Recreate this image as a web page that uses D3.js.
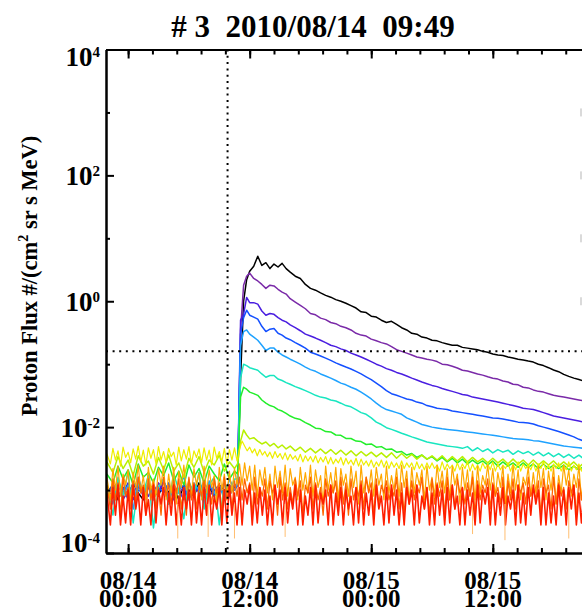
<!DOCTYPE html>
<html>
<head>
<meta charset="utf-8">
<script src="https://cdn.jsdelivr.net/npm/d3@7"></script>
<style>
body { margin: 0; background: #fff; }
svg { display: block; font-family: "Liberation Serif", "Times New Roman", serif; font-weight: bold; }
</style>
</head>
<body>
<script>
// ---- data ----
// hours after 2010/08/14 00:00 UT (coarse sampling, higher channels)
var hours = [-2.1,-1.5,-1,-0.5,0,0.5,1,1.5,2,2.5,3,3.5,4,4.5,5,5.5,6,6.5,7,7.5,8,8.5,9,9.5,10,10.5,
  10.8,11.1,11.4,11.7,12,12.4,12.8,13.2,13.6,14,14.4,14.8,15.2,15.6,
  16,16.5,17,17.5,18,18.5,19,19.5,20,20.5,21,21.5,22,22.5,23,23.5,24,24.5,25,25.5,26,26.5,27,27.5,28,28.5,29,29.5,30,30.5,
  31,31.5,32,32.5,33,33.5,34,34.5,35,35.5,36,36.5,37,37.5,38,38.5,39,39.5,40,40.5,41,41.5,42,42.5,43,43.5,44,44.5,45,45.5,46];

// hours for the noisy low channels (finer sampling)
var fineHours = [-2.1,-1.75,-1.5,-1.25,-1,-0.75,-0.5,-0.25,
  0,0.25,0.5,0.75,1,1.25,1.5,1.75,2,2.25,2.5,2.75,3,3.25,3.5,3.75,4,4.25,4.5,4.75,5,5.25,5.5,5.75,
  6,6.25,6.5,6.75,7,7.25,7.5,7.75,8,8.25,8.5,8.75,9,9.25,9.5,9.75,10,10.25,10.5,10.75,11,11.25,11.5,11.75,
  12,12.25,12.5,12.75,13,13.25,13.5,13.75,14,14.25,14.5,14.75,15,15.25,15.5,15.75,16,16.25,16.5,16.75,17,17.25,17.5,17.75,
  18,18.25,18.5,18.75,19,19.25,19.5,19.75,20,20.25,20.5,20.75,21,21.25,21.5,21.75,22,22.25,22.5,22.75,23,23.25,23.5,23.75,
  24,24.25,24.5,24.75,25,25.25,25.5,25.75,26,26.25,26.5,26.75,27,27.25,27.5,27.75,28,28.25,28.5,28.75,29,29.25,29.5,29.75,
  30,30.25,30.5,30.75,31,31.25,31.5,31.75,32,32.25,32.5,32.75,33,33.25,33.5,33.75,34,34.25,34.5,34.75,35,35.25,35.5,35.75,
  36,36.25,36.5,36.75,37,37.25,37.5,37.75,38,38.25,38.5,38.75,39,39.25,39.5,39.75,40,40.25,40.5,40.75,41,41.25,41.5,41.75,
  42,42.25,42.5,42.75,43,43.25,43.5,43.75,44,44.25,44.5,44.75,45,45.25,45.5,45.75,46];

// proton flux, one array per energy channel (highest flux first)
var fluxCh1 = [9e-4,1.2e-3,7e-4,1.1e-3,8e-4,1.3e-3,9e-4,7e-4,1.2e-3,1e-3,8e-4,1.4e-3,9e-4,1.1e-3,7e-4,1.2e-3,1e-3,8e-4,1.3e-3,9e-4,1.1e-3,8e-4,1.2e-3,1e-3,9e-4,1.1e-3,
  1.2e-3,0.06,1.0,2.2,3.0,3.6,5.2,3.7,4.1,3.3,3.9,3.5,4.0,3.3,
  2.9,2.5,2.3,1.85,1.6,1.5,1.36,1.24,1.16,1.06,1.0,0.93,0.85,0.78,0.68,0.66,0.58,0.56,0.5,0.46,0.48,0.43,0.38,0.35,0.31,0.3,0.27,0.26,0.24,0.235,
  0.22,0.21,0.2,0.2,0.185,0.18,0.175,0.17,0.16,0.155,0.145,0.14,0.137,0.13,0.125,0.12,0.117,0.112,0.108,0.1,0.095,0.088,0.081,0.076,0.069,0.064,0.06,0.057,0.054,0.051,0.048];
var fluxCh2 = [8e-4,1.1e-3,1.3e-3,7e-4,1e-3,9e-4,1.2e-3,8e-4,1.1e-3,7e-4,1.3e-3,1e-3,8e-4,1.2e-3,9e-4,1.1e-3,7e-4,1.2e-3,9e-4,1.4e-3,8e-4,1e-3,1.2e-3,8e-4,1.1e-3,1e-3,
  1.2e-3,0.35,1.8,2.5,2.8,2.3,2.1,1.85,1.6,1.8,1.75,1.55,1.4,1.3,
  1.1,0.97,0.86,0.76,0.64,0.61,0.54,0.51,0.46,0.44,0.4,0.38,0.35,0.31,0.29,0.28,0.25,0.235,0.22,0.21,0.19,0.17,0.16,0.15,0.14,0.13,0.125,0.12,0.116,0.11,
  0.1,0.098,0.093,0.087,0.08,0.078,0.074,0.07,0.067,0.063,0.06,0.058,0.054,0.052,0.048,0.047,0.043,0.042,0.039,0.037,0.036,0.034,0.032,0.031,0.03,0.029,0.028,0.027,0.026,0.025,0.024];
var fluxCh3 = [1e-3,8e-4,1.2e-3,9e-4,1.3e-3,7e-4,1.1e-3,1e-3,8e-4,1.2e-3,9e-4,1.4e-3,8e-4,1.1e-3,1e-3,7e-4,1.3e-3,9e-4,1.1e-3,8e-4,1.2e-3,1e-3,9e-4,1.3e-3,8e-4,1.2e-3,
  1.2e-3,0.5,0.62,1.15,0.95,0.95,0.9,0.7,0.6,0.64,0.62,0.55,0.5,0.47,
  0.42,0.38,0.34,0.3,0.28,0.26,0.24,0.22,0.2,0.19,0.175,0.165,0.15,0.14,0.13,0.12,0.11,0.1,0.093,0.085,0.08,0.074,0.07,0.065,0.06,0.056,0.052,0.049,0.046,0.044,
  0.041,0.039,0.037,0.035,0.033,0.032,0.03,0.029,0.028,0.027,0.026,0.025,0.024,0.023,0.022,0.021,0.02,0.0195,0.019,0.018,0.017,0.016,0.015,0.0145,0.014,0.0135,0.013,0.0125,0.012,0.0115,0.011];
var fluxCh4 = [9e-4,1.2e-3,8e-4,1.1e-3,7e-4,1.3e-3,1e-3,9e-4,1.2e-3,8e-4,1.1e-3,9e-4,1.3e-3,7e-4,1e-3,1.2e-3,8e-4,1.1e-3,1e-3,9e-4,1.3e-3,8e-4,1.1e-3,9e-4,1.2e-3,1e-3,
  1.2e-3,0.3,0.55,0.72,0.6,0.56,0.52,0.4,0.33,0.36,0.37,0.31,0.29,0.26,
  0.245,0.22,0.2,0.18,0.155,0.145,0.135,0.125,0.115,0.105,0.097,0.09,0.084,0.077,0.07,0.063,0.057,0.05,0.044,0.038,0.034,0.032,0.03,0.028,0.027,0.025,0.024,0.022,0.021,0.02,
  0.0195,0.019,0.018,0.0175,0.017,0.0165,0.016,0.0155,0.015,0.0145,0.014,0.0138,0.0135,0.013,0.0125,0.012,0.0118,0.0116,0.0112,0.0105,0.01,0.0095,0.009,0.0085,0.008,0.0075,0.007,0.0064,0.006,0.0058,0.0056];
var fluxCh5 = [1.1e-3,6e-4,1.5e-3,8e-4,1.2e-3,5e-4,1.6e-3,9e-4,1.3e-3,7e-4,1.1e-3,1.5e-3,6e-4,1.2e-3,9e-4,1.7e-3,7e-4,1.3e-3,1e-3,6e-4,1.4e-3,9e-4,1.2e-3,7e-4,1.5e-3,1e-3,
  1.3e-3,0.2,0.33,0.35,0.3,0.27,0.24,0.2,0.165,0.18,0.18,0.155,0.14,0.13,
  0.12,0.11,0.1,0.09,0.082,0.077,0.07,0.065,0.06,0.055,0.05,0.047,0.043,0.04,0.036,0.032,0.028,0.024,0.021,0.019,0.018,0.017,0.016,0.014,0.013,0.012,0.011,0.0105,0.01,0.0097,
  0.0094,0.0092,0.009,0.0088,0.0086,0.0084,0.0082,0.008,0.0078,0.0076,0.0074,0.0072,0.007,0.0068,0.0066,0.0065,0.0064,0.0063,0.0061,0.006,0.0058,0.0056,0.0054,0.0052,0.005,0.0049,0.0048,0.0047,0.0046,0.0045,0.0044];
var fluxCh6 = [1.2e-3,4e-4,1.6e-3,8e-4,2e-3,3e-4,1.3e-3,9e-4,1.7e-3,2.5e-4,1.1e-3,1.5e-3,6e-4,1.8e-3,1e-3,3.5e-4,1.4e-3,8e-4,1.9e-3,5e-4,1.2e-3,1.6e-3,2.8e-4,1.3e-3,9e-4,1.5e-3,
  1.5e-3,0.06,0.1,0.095,0.088,0.084,0.08,0.07,0.062,0.066,0.066,0.058,0.055,0.051,
  0.048,0.044,0.041,0.038,0.035,0.032,0.03,0.029,0.027,0.026,0.024,0.022,0.021,0.019,0.017,0.016,0.014,0.012,0.011,0.0098,0.0092,0.0086,0.008,0.0075,0.007,0.0066,0.0062,0.0058,0.0056,0.0054,
  0.0052,0.005,0.0049,0.0048,0.0046,0.0049,0.0042,0.0047,0.0041,0.0045,0.0039,0.0044,0.004,0.0043,0.0037,0.0042,0.0038,0.0041,0.0036,0.004,0.0035,0.0039,0.0034,0.0038,0.0033,0.0037,0.0032,0.0036,0.0031,0.0034,0.0031];
var fluxCh7 = [1.8e-3,1.3e-3,2.4e-3,1.5e-3,2.1e-3,1.2e-3,2.6e-3,1.6e-3,1.9e-3,1.3e-3,2.3e-3,1.7e-3,2.7e-3,1.4e-3,2e-3,1.2e-3,2.5e-3,1.6e-3,2.2e-3,1.3e-3,2.4e-3,1.8e-3,1.4e-3,2.6e-3,1.5e-3,2e-3,
  1.8e-3,0.03,0.043,0.04,0.036,0.034,0.032,0.027,0.024,0.022,0.021,0.019,0.018,0.0165,
  0.015,0.0138,0.0132,0.0118,0.0108,0.0096,0.0094,0.0085,0.0084,0.0075,0.0074,0.0066,0.0066,0.006,0.0059,0.0053,0.0054,0.0048,0.0049,0.0044,0.0045,0.004,0.0041,0.0036,0.0038,0.0033,0.0036,0.0031,0.0034,0.0029,
  0.0033,0.0028,0.0032,0.0027,0.0031,0.0026,0.003,0.0026,0.0029,0.0025,0.0029,0.0024,0.0028,0.0024,0.0027,0.0023,0.0027,0.0023,0.0026,0.0022,0.0026,0.0022,0.0025,0.0022,0.0025,0.0021,0.0024,0.0021,0.0024,0.0021,0.0023];
var fluxCh8 = [2.8e-3,1.9e-3,3.4e-3,2.2e-3,3e-3,1.7e-3,3.5e-3,2.4e-3,2.9e-3,1.8e-3,3.3e-3,2.1e-3,3.6e-3,2e-3,2.7e-3,1.6e-3,3.2e-3,2.3e-3,3.4e-3,1.9e-3,3e-3,2.5e-3,3.6e-3,2e-3,2.8e-3,2.2e-3,
  2.6e-3,6e-3,9e-3,7.5e-3,6.5e-3,6.8e-3,6e-3,5.4e-3,5.8e-3,5e-3,5.5e-3,4.7e-3,5.2e-3,4.5e-3,
  5e-3,4.2e-3,4.8e-3,4e-3,4.6e-3,3.9e-3,4.5e-3,3.8e-3,4.4e-3,3.7e-3,4.3e-3,3.6e-3,4.2e-3,3.5e-3,4.1e-3,3.5e-3,4e-3,3.4e-3,3.9e-3,3.3e-3,3.9e-3,3.2e-3,3.8e-3,3.2e-3,3.7e-3,3.1e-3,3.6e-3,3.1e-3,3.5e-3,3e-3,
  3.5e-3,2.9e-3,3.4e-3,2.9e-3,3.4e-3,2.8e-3,3.3e-3,2.8e-3,3.2e-3,2.7e-3,3.2e-3,2.7e-3,3.1e-3,2.6e-3,3.1e-3,2.6e-3,3e-3,2.5e-3,3e-3,2.5e-3,2.9e-3,2.5e-3,2.9e-3,2.4e-3,2.8e-3,2.4e-3,2.8e-3,2.3e-3,2.7e-3,2.3e-3,2.6e-3];
// fine sampling below
var fluxCh9 = [3.8e-3,2.6e-3,4.6e-3,3e-3,4.2e-3,2.4e-3,4.8e-3,3.3e-3,
  4e-3,2.7e-3,4.5e-3,3.1e-3,5e-3,2.8e-3,4.3e-3,2.5e-3, 4.7e-3,3.2e-3,4.4e-3,2.6e-3,4.9e-3,3e-3,4.1e-3,2.7e-3,
  4.6e-3,3.4e-3,4e-3,2.5e-3,4.8e-3,2.9e-3,4.4e-3,3.1e-3, 4.9e-3,2.6e-3,4.2e-3,3.3e-3,4.5e-3,2.7e-3,4.7e-3,3e-3,
  4.3e-3,2.5e-3,4.8e-3,3.2e-3,4.1e-3,2.8e-3,4.6e-3,2.6e-3, 4.4e-3,3e-3,4.7e-3,2.9e-3,4.5e-3,6e-3,5e-3,4.2e-3,
  4.8e-3,3.9e-3,4.5e-3,3.5e-3,4.4e-3,3.6e-3,4.1e-3,3.4e-3, 4e-3,3.2e-3,4.1e-3,3.3e-3,3.8e-3,3.1e-3,3.9e-3,3e-3,
  3.7e-3,3.1e-3,3.5e-3,2.9e-3,3.7e-3,2.8e-3,3.5e-3,2.9e-3, 3.4e-3,2.8e-3,3.5e-3,2.7e-3,3.3e-3,2.8e-3,3.4e-3,2.6e-3,
  3.3e-3,2.6e-3,3.1e-3,2.7e-3,3.3e-3,2.5e-3,3.2e-3,2.6e-3, 3e-3,2.5e-3,3.2e-3,2.4e-3,3.1e-3,2.5e-3,2.9e-3,2.4e-3,
  3e-3,2.3e-3,2.8e-3,2.4e-3,3e-3,2.3e-3,2.9e-3,2.2e-3, 2.8e-3,2.3e-3,2.7e-3,2.2e-3,2.9e-3,2.2e-3,2.7e-3,2.3e-3,
  2.7e-3,2.1e-3,2.8e-3,2.2e-3,2.6e-3,2.1e-3,2.7e-3,2.2e-3, 2.7e-3,2.2e-3,2.5e-3,2e-3,2.8e-3,2.1e-3,2.6e-3,2.2e-3,
  2.5e-3,2e-3,2.7e-3,2.1e-3,2.6e-3,2.2e-3,2.8e-3,2e-3, 2.6e-3,2.1e-3,2.5e-3,2e-3,2.7e-3,2.2e-3,2.6e-3,2.1e-3,
  2.8e-3,2e-3,2.6e-3,2.1e-3,2.5e-3,2.2e-3,2.7e-3,2e-3, 2.6e-3,2.1e-3,2.8e-3,2e-3,2.6e-3,2.2e-3,2.5e-3,2.1e-3,
  2.7e-3,2e-3,2.6e-3,2.2e-3,2.8e-3,2.1e-3,2.5e-3,2e-3, 2.6e-3,2.2e-3,2.7e-3,2e-3,2.5e-3,2.1e-3,2.8e-3,2e-3,
  2.5e-3,2.1e-3,2.6e-3,2e-3,2.7e-3,2.2e-3,2.6e-3,2.1e-3, 2.5e-3];
var fluxCh10 = [1.6e-3,7e-4,2.2e-3,1e-3,2.4e-3,8e-4,1.8e-3,1.2e-3,
  2.1e-3,6e-4,1.9e-3,1.1e-3,2.5e-3,9e-4,1.7e-3,7e-4, 2.3e-3,1e-3,1.5e-3,8e-4,2.2e-3,1.2e-3,2.4e-3,7e-4,
  1.8e-3,9e-4,2.3e-3,6e-4,2e-3,1.1e-3,2.5e-3,1e-3, 1.5e-3,8e-4,2.2e-3,1.2e-3,1.9e-3,7e-4,2.4e-3,9e-4,
  2.1e-3,1.1e-3,1.7e-3,6e-4,2.3e-3,1e-3,1.8e-3,8e-4, 2e-3,9e-4,2.2e-3,1.2e-3,2.6e-3,1.2e-3,2.7e-3,1.4e-3,
  2.4e-3,1e-3,2.5e-3,8e-4,2.1e-3,1.2e-3,2.3e-3,9e-4, 1.8e-3,7e-4,2.4e-3,1.1e-3,2e-3,9e-4,2.5e-3,8e-4,
  2.2e-3,1.2e-3,1.6e-3,7e-4,2.3e-3,1e-3,1.9e-3,9e-4, 2.5e-3,8e-4,2.1e-3,1.1e-3,1.7e-3,6e-4,2.4e-3,1e-3,
  1.9e-3,9e-4,2.3e-3,7e-4,2.2e-3,1.2e-3,1.8e-3,8e-4, 2.4e-3,1.1e-3,2e-3,6e-4,2.5e-3,9e-4,1.6e-3,1e-3,
  2.1e-3,8e-4,2.3e-3,1.2e-3,1.8e-3,7e-4,2.4e-3,9e-4, 1.7e-3,1e-3,2.2e-3,8e-4,2.5e-3,1.1e-3,2e-3,6e-4,
  2.3e-3,9e-4,1.9e-3,1.2e-3,2.1e-3,7e-4,2.4e-3,1e-3, 1.6e-3,8e-4,2.5e-3,1.1e-3,2e-3,9e-4,2.2e-3,7e-4,
  2.4e-3,1.2e-3,1.8e-3,6e-4,2.3e-3,1e-3,2.1e-3,8e-4, 2e-3,7e-4,2.4e-3,9e-4,1.7e-3,1.2e-3,2.5e-3,1e-3,
  2.2e-3,8e-4,1.9e-3,1.1e-3,2.4e-3,6e-4,1.8e-3,9e-4, 2.5e-3,1e-3,2.1e-3,7e-4,1.6e-3,1.2e-3,2.3e-3,8e-4,
  1.9e-3,9e-4,2.4e-3,1.1e-3,2.2e-3,7e-4,2e-3,1e-3, 2.3e-3,6e-4,1.7e-3,9e-4,2.5e-3,1.2e-3,2.1e-3,8e-4,
  1.8e-3,1.1e-3,2.4e-3,7e-4,2e-3,9e-4,2.2e-3,1e-3, 2.1e-3];
var fluxCh11 = [1.2e-3,5e-4,1.5e-3,7e-4,1.3e-3,4e-4,1.6e-3,8e-4,
  1.1e-3,5e-4,1.4e-3,6e-4,1.6e-3,9e-4,1.2e-3,4e-4, 1.5e-3,7e-4,1.3e-3,5e-4,1.1e-3,4e-4,1.6e-3,8e-4,
  1.2e-3,6e-4,1.4e-3,9e-4,1.5e-3,5e-4,1.1e-3,4e-4, 1.6e-3,7e-4,1.3e-3,5e-4,1.2e-3,8e-4,1.4e-3,4e-4,
  1.1e-3,6e-4,1.5e-3,9e-4,1.3e-3,4e-4,1.6e-3,7e-4, 1.2e-3,5e-4,1.4e-3,8e-4,1.6e-3,7e-4,1.5e-3,9e-4,
  1.3e-3,4e-4,1.6e-3,6e-4,1.1e-3,8e-4,1.5e-3,5e-4, 1.4e-3,9e-4,1.2e-3,4e-4,1.6e-3,7e-4,1.3e-3,5e-4,
  1.1e-3,6e-4,1.5e-3,8e-4,1.4e-3,4e-4,1.2e-3,9e-4, 1.6e-3,5e-4,1.3e-3,7e-4,1.1e-3,4e-4,1.5e-3,8e-4,
  1.2e-3,9e-4,1.4e-3,5e-4,1.6e-3,6e-4,1.3e-3,4e-4, 1.5e-3,7e-4,1.1e-3,8e-4,1.4e-3,5e-4,1.6e-3,9e-4,
  1.3e-3,4e-4,1.5e-3,6e-4,1.2e-3,9e-4,1.4e-3,7e-4, 1.1e-3,8e-4,1.6e-3,5e-4,1.3e-3,4e-4,1.5e-3,6e-4,
  1.4e-3,7e-4,1.2e-3,9e-4,1.6e-3,5e-4,1.1e-3,4e-4, 1.5e-3,6e-4,1.3e-3,8e-4,1.4e-3,4e-4,1.6e-3,7e-4,
  1.2e-3,5e-4,1.5e-3,9e-4,1.1e-3,6e-4,1.3e-3,8e-4, 1.6e-3,4e-4,1.4e-3,7e-4,1.2e-3,9e-4,1.5e-3,5e-4,
  1.3e-3,8e-4,1.1e-3,6e-4,1.6e-3,4e-4,1.4e-3,7e-4, 1.5e-3,5e-4,1.2e-3,9e-4,1.3e-3,6e-4,1.6e-3,8e-4,
  1.1e-3,7e-4,1.4e-3,4e-4,1.5e-3,9e-4,1.2e-3,5e-4, 1.6e-3,6e-4,1.3e-3,8e-4,1.1e-3,5e-4,1.4e-3,9e-4,
  1.2e-3,4e-4,1.5e-3,7e-4,1.3e-3,6e-4,1.6e-3,8e-4, 1.4e-3];
var fluxCh12 = [9e-4,2.8e-4,1.1e-3,4e-4,1.2e-3,2.8e-4,8e-4,3e-4,
  1e-3,2.8e-4,1.2e-3,5e-4,9e-4,2.8e-4,1.1e-3,4e-4, 7e-4,2.8e-4,1.2e-3,3e-4,1e-3,6e-4,1.1e-3,2.8e-4,
  9e-4,4e-4,1.2e-3,2.8e-4,8e-4,2.8e-4,1.1e-3,5e-4, 1e-3,2.8e-4,1.2e-3,3e-4,9e-4,2.8e-4,1.1e-3,4e-4,
  1.2e-3,2.8e-4,8e-4,5e-4,1.1e-3,2.8e-4,1e-3,3e-4, 1.2e-3,4e-4,9e-4,2.8e-4,1.1e-3,2.8e-4,1e-3,6e-4,
  1.2e-3,2.8e-4,9e-4,3e-4,1.1e-3,4e-4,1e-3,2.8e-4, 8e-4,2.8e-4,1.2e-3,6e-4,1e-3,2.8e-4,1.1e-3,3e-4,
  9e-4,5e-4,1.2e-3,2.8e-4,1e-3,2.8e-4,8e-4,4e-4, 1.1e-3,2.8e-4,1.2e-3,3e-4,9e-4,6e-4,1e-3,2.8e-4,
  1.2e-3,2.8e-4,9e-4,4e-4,1.1e-3,2.8e-4,1e-3,5e-4, 8e-4,2.8e-4,1.1e-3,3e-4,1.2e-3,2.8e-4,9e-4,4e-4,
  1e-3,2.8e-4,1.2e-3,5e-4,8e-4,2.8e-4,1.1e-3,3e-4, 1.2e-3,4e-4,1e-3,2.8e-4,9e-4,2.8e-4,1.1e-3,6e-4,
  1e-3,2.8e-4,1.2e-3,3e-4,8e-4,5e-4,1.1e-3,2.8e-4, 9e-4,2.8e-4,1.2e-3,4e-4,1e-3,2.8e-4,1.1e-3,3e-4,
  1.2e-3,5e-4,8e-4,2.8e-4,1.1e-3,2.8e-4,1e-3,4e-4, 9e-4,2.8e-4,1.2e-3,3e-4,1e-3,6e-4,1.1e-3,2.8e-4,
  1.2e-3,2.8e-4,9e-4,4e-4,1.1e-3,2.8e-4,8e-4,5e-4, 1e-3,2.8e-4,1.2e-3,3e-4,9e-4,2.8e-4,1.1e-3,4e-4,
  1.2e-3,6e-4,1e-3,2.8e-4,1.1e-3,2.8e-4,9e-4,3e-4, 8e-4,2.8e-4,1.2e-3,4e-4,1e-3,2.8e-4,1.1e-3,5e-4,
  1.2e-3,2.8e-4,9e-4,3e-4,1.1e-3,4e-4,1e-3,2.8e-4, 9e-4];

// isolated low samples of the orange channel (hours, flux)
var dropHours = [4.9, 7.9, 10.5, 15.5, 34.0, 37.2, 43.5];
var dropFlux = [1.7e-4, 1.8e-4, 1.7e-4, 1.8e-4, 2.0e-4, 1.6e-4, 1.7e-4];

var thresholdFlux = 0.16;
var yTickValues = [1e4, 1e2, 1, 1e-2, 1e-4];
var yTickExponents = ["4", "2", "0", "-2", "-4"];
var yMinorValues = [1e3, 1e1, 1e-1, 1e-3];
var xTickHours = [0, 12, 24, 36];
var xTickLabels = [["08/14", "00:00"], ["08/14", "12:00"], ["08/15", "00:00"], ["08/15", "12:00"]];
var edgeMarkValues = [1e3, 1e2, 1e1, 1];

var channelFlux = [fluxCh1, fluxCh2, fluxCh3, fluxCh4, fluxCh5, fluxCh6, fluxCh7, fluxCh8, fluxCh9, fluxCh10, fluxCh11, fluxCh12];
var channelColors = ["#000000", "#7a2aa8", "#4a1ee0", "#1450ff", "#1ea2ff", "#18e6c0", "#22ee2a", "#b8f000", "#eeee00", "#ffa800", "#ff6400", "#ff1e00"];
var channelWidths = [1.5, 1.5, 1.5, 1.5, 1.5, 1.5, 1.5, 1.5, 1.2, 1.2, 1.3, 1.6];

// ---- chart setup ----
var svgWidth = 582;
var svgHeight = 611;
var plotLeft = 106, plotTop = 49.5, plotBottom = 553;
var hourPx = 10.13;

var svg = d3.select("body").append("svg")
    .attr("width", svgWidth)
    .attr("height", svgHeight);

var base = Date.UTC(2010, 7, 14, 0, 0);
function toDate(h) { return new Date(base + h * 3600e3); }
var eventTime = new Date(Date.UTC(2010, 7, 14, 9, 49));
var start = new Date(+eventTime - 12 * 3600e3);
var end = new Date(+eventTime + 60 * 3600e3);

var xScale = d3.scaleUtc().domain([start, end]).range([plotLeft, plotLeft + 72 * hourPx]);
var yScale = d3.scaleLog().domain([1e-4, 1e4]).range([plotBottom, plotTop]);

svg.append("clipPath").attr("id", "plotclip")
  .append("rect")
    .attr("x", plotLeft).attr("y", plotTop)
    .attr("width", svgWidth - plotLeft + 10).attr("height", plotBottom - plotTop);

var plot = svg.append("g").attr("clip-path", "url(#plotclip)");

var line = d3.line()
    .x(d => xScale(d[0]))
    .y(d => yScale(d[1]));

channelFlux.forEach(function(vals, i) {
  var t = vals.length === fineHours.length ? fineHours : hours;
  var pts = t.map((h, j) => [toDate(h), vals[j]]).filter(d => d[1] != null);
  plot.append("path")
      .datum(pts)
      .attr("fill", "none")
      .attr("stroke", channelColors[i])
      .attr("stroke-width", channelWidths[i])
      .attr("stroke-linejoin", "round")
      .attr("d", line);
});

// dropouts
plot.selectAll(".drop")
    .data(dropHours)
  .enter().append("line")
    .attr("class", "drop")
    .attr("x1", d => xScale(toDate(d)))
    .attr("x2", d => xScale(toDate(d)))
    .attr("y1", yScale(6e-4))
    .attr("y2", (d, i) => yScale(dropFlux[i]))
    .attr("stroke", "#ffbe70")
    .attr("stroke-width", 1);

// dotted event time and threshold
plot.append("line")
    .attr("x1", xScale(eventTime)).attr("x2", xScale(eventTime))
    .attr("y1", plotTop).attr("y2", plotBottom)
    .attr("stroke", "#000").attr("stroke-width", 2)
    .attr("stroke-dasharray", "2,4.3");

plot.append("line")
    .attr("x1", plotLeft).attr("x2", svgWidth + 10)
    .attr("y1", yScale(thresholdFlux)).attr("y2", yScale(thresholdFlux))
    .attr("stroke", "#000").attr("stroke-width", 2)
    .attr("stroke-dasharray", "2,4.6");

// faint marks at right edge
svg.selectAll(".edge")
    .data(edgeMarkValues)
  .enter().append("rect")
    .attr("class", "edge")
    .attr("x", 580).attr("width", 2)
    .attr("y", d => yScale(d) - 4).attr("height", 8)
    .attr("fill", "#dadada");

// ---- axes ----
var majorX = xTickHours.map(toDate);
var minorX = d3.range(0, 50, 2.4).map(toDate).filter(d => xScale(d) > plotLeft + 1);

function styleAxis(g) {
  g.selectAll("path, line").attr("stroke", "#000").attr("stroke-width", 2);
  g.selectAll("text").remove();
}

svg.append("g")
    .attr("transform", `translate(0, ${plotBottom})`)
    .call(d3.axisBottom(xScale).tickValues(minorX).tickSizeInner(-5).tickSizeOuter(0))
    .call(styleAxis);
svg.append("g")
    .attr("transform", `translate(0, ${plotBottom})`)
    .call(d3.axisBottom(xScale).tickValues(majorX).tickSizeInner(-9).tickSizeOuter(0))
    .call(styleAxis);
svg.append("g")
    .attr("transform", `translate(0, ${plotTop})`)
    .call(d3.axisTop(xScale).tickValues(minorX).tickSizeInner(-5).tickSizeOuter(0))
    .call(styleAxis);
svg.append("g")
    .attr("transform", `translate(0, ${plotTop})`)
    .call(d3.axisTop(xScale).tickValues(majorX).tickSizeInner(-9).tickSizeOuter(0))
    .call(styleAxis);
svg.append("g")
    .attr("transform", `translate(${plotLeft}, 0)`)
    .call(d3.axisLeft(yScale).tickValues(yMinorValues).tickSizeInner(-4).tickSizeOuter(0))
    .call(styleAxis);
svg.append("g")
    .attr("transform", `translate(${plotLeft}, 0)`)
    .call(d3.axisLeft(yScale).tickValues(yTickValues).tickSizeInner(-8).tickSizeOuter(0))
    .call(styleAxis);

// x tick labels, two lines each
var xLab = svg.selectAll(".xlab")
    .data(majorX)
  .enter().append("text")
    .attr("class", "xlab")
    .attr("text-anchor", "middle")
    .attr("font-size", 25);
xLab.append("tspan").attr("x", d => xScale(d)).attr("y", 588.5).text((d, i) => xTickLabels[i][0]);
xLab.append("tspan").attr("x", d => xScale(d)).attr("y", 607).text((d, i) => xTickLabels[i][1]);

// y tick labels 10^n
var yLab = svg.selectAll(".ylab")
    .data(yTickValues)
  .enter().append("text")
    .attr("class", "ylab")
    .attr("text-anchor", "end")
    .attr("x", 100)
    .attr("y", (d, i) => yScale(d) + (i === 0 ? 16.5 : i === yTickValues.length - 1 ? -1 : 9.5))
    .attr("font-size", 27);
yLab.append("tspan").text("10");
yLab.append("tspan").attr("dy", -9).attr("font-size", 15).text((d, i) => yTickExponents[i]);

// y axis title
var yTitle = svg.append("text")
    .attr("transform", "translate(37, 276) rotate(-90)")
    .attr("text-anchor", "middle")
    .attr("font-size", 22.5);
yTitle.append("tspan").text("Proton Flux #/(cm");
yTitle.append("tspan").attr("dy", -9).attr("font-size", 14).text("2");
yTitle.append("tspan").attr("dy", 9).text(" sr s MeV)");

// title
svg.append("text")
    .attr("x", 313)
    .attr("y", 37)
    .attr("text-anchor", "middle")
    .attr("font-size", 31)
    .style("white-space", "pre")
    .text("# 3  2010/08/14  09:49");
</script>
</body>
</html>
